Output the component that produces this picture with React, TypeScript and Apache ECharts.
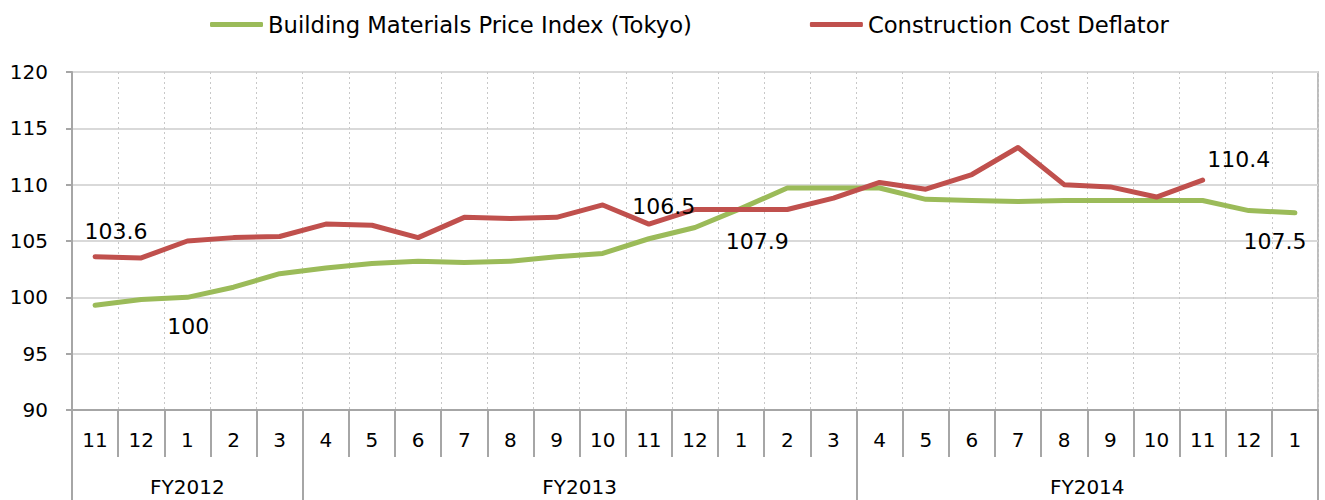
import React, { useEffect, useRef } from "react";
import * as echarts from "echarts";

// ---- data ----
const months: string[] = [
  "11", "12", "1", "2", "3",
  "4", "5", "6", "7", "8", "9", "10", "11", "12", "1", "2", "3",
  "4", "5", "6", "7", "8", "9", "10", "11", "12", "1",
];
const fiscalYears: string[] = ["FY2012", "FY2013", "FY2014"];
const fiscalYearMonthCounts: number[] = [5, 12, 10];

const buildingMaterials: number[] = [
  99.3, 99.8, 100, 100.9, 102.1,
  102.6, 103.0, 103.2, 103.1, 103.2, 103.6, 103.9, 105.2, 106.2, 107.9, 109.7, 109.7,
  109.7, 108.7, 108.6, 108.5, 108.6, 108.6, 108.6, 108.6, 107.7, 107.5,
];
const deflator: (number | null)[] = [
  103.6, 103.5, 105.0, 105.3, 105.4,
  106.5, 106.4, 105.3, 107.1, 107.0, 107.1, 108.2, 106.5, 107.8, 107.8, 107.8, 108.8,
  110.2, 109.6, 110.9, 113.3, 110.0, 109.8, 108.9, 110.4, null, null,
];
const seriesNames: string[] = ["Building Materials Price Index (Tokyo)", "Construction Cost Deflator"];
const yMin = 90;
const yMax = 120;
const yStep = 5;

// ---- label placement (style, not data) ----
const greenLabelOffsets: Record<number, [number, number]> = {
  2: [1, 29],
  14: [16, 33],
  26: [-20, 29],
};
const redLabelOffsets: Record<number, [number, number]> = {
  0: [21, -25],
  12: [15, -18],
  24: [36, -21],
};

const FONT = "DejaVu Sans";
const GREEN = "#9bbb59";
const RED = "#c0504d";
const AXIS = "#a6a6a6";

function withLabels(values: (number | null)[], offsets: Record<number, [number, number]>) {
  return values.map((v, i) => {
    const off = offsets[i];
    if (off && v != null) {
      return {
        value: v,
        label: {
          show: true,
          position: "inside",
          offset: off,
          align: "center",
          verticalAlign: "middle",
          fontSize: 22,
          fontFamily: FONT,
          color: "#000",
          formatter: (p: any) => String(p.value),
        },
      };
    }
    return v;
  });
}

export default function App() {
  const ref = useRef<HTMLDivElement>(null);

  useEffect(() => {
    if (!ref.current) return;
    const chart = echarts.init(ref.current, null, { renderer: "svg" });
    const gridLeft = 72;
    const gridRight = 7;
    const bandWidth = (chart.getWidth() - gridLeft - gridRight) / months.length;

    // group boundaries and label indices
    const boundaries = new Set<number>();
    const labelAt: Record<number, { name: string; even: boolean }> = {};
    const groupOfMonth: string[] = [];
    let start = 0;
    fiscalYears.forEach((fy, g) => {
      const n = fiscalYearMonthCounts[g];
      boundaries.add(start);
      const even = n % 2 === 0;
      const idx = even ? start + n / 2 - 1 : start + (n - 1) / 2;
      labelAt[idx] = { name: fy, even };
      for (let k = 0; k < n; k++) groupOfMonth.push(fy);
      start += n;
    });

    const option: any = {
      animation: false,
      textStyle: { fontFamily: FONT },
      legend: {
        left: 210,
        top: 13,
        padding: 0,
        itemWidth: 53,
        itemHeight: 5,
        itemGap: 118,
        icon: "roundRect",
        textStyle: { fontSize: 22.7, fontFamily: FONT, color: "#000" },
        data: seriesNames,
      },
      grid: {
        left: gridLeft,
        right: gridRight,
        top: 72,
        bottom: 90,
        show: true,
        borderColor: AXIS,
        borderWidth: 1.5,
        containLabel: false,
      },
      xAxis: [
        {
          type: "category",
          data: months,
          boundaryGap: true,
          axisLine: { show: true, lineStyle: { color: AXIS, width: 2 } },
          axisTick: { show: true, interval: 0, length: 47, lineStyle: { color: AXIS, width: 2 } },
          axisLabel: { interval: 0, margin: 20, fontSize: 20, color: "#000", fontFamily: FONT },
          splitLine: { show: true, interval: 0, lineStyle: { type: [2, 3], color: "#c8c8c8", width: 1 } },
        },
        {
          type: "category",
          data: groupOfMonth,
          position: "bottom",
          offset: 0,
          boundaryGap: true,
          axisLine: { show: false },
          axisTick: {
            show: true,
            interval: (i: number) => boundaries.has(i),
            length: 90,
            lineStyle: { color: AXIS, width: 2 },
          },
          axisLabel: {
            interval: (i: number) => labelAt[i] !== undefined,
            margin: 67,
            fontSize: 20,
            color: "#000",
            fontFamily: FONT,
            formatter: (_v: string, i: number) => {
              const l = labelAt[i];
              if (!l) return "";
              return l.even ? `{e|${l.name}}` : `{o|${l.name}}`;
            },
            rich: {
              e: { fontSize: 20, color: "#000", fontFamily: FONT, padding: [0, 0, 0, bandWidth] },
              o: { fontSize: 20, color: "#000", fontFamily: FONT },
            },
          },
          splitLine: { show: false },
        },
      ],
      yAxis: {
        type: "value",
        min: yMin,
        max: yMax,
        interval: yStep,
        axisLine: { show: true, lineStyle: { color: AXIS, width: 2 } },
        axisTick: { show: true, length: 6, lineStyle: { color: AXIS, width: 2 } },
        axisLabel: { margin: 24, fontSize: 20, color: "#000", fontFamily: FONT },
        splitLine: { show: true, lineStyle: { color: "#d9d9d9", width: 2 } },
      },
      series: [
        {
          name: seriesNames[0],
          type: "line",
          data: withLabels(buildingMaterials, greenLabelOffsets),
          symbol: "circle",
          symbolSize: 0,
          showSymbol: true,
          lineStyle: { color: GREEN, width: 5, join: "round", cap: "round" },
          itemStyle: { color: GREEN },
          label: { show: false },
          z: 3,
        },
        {
          name: seriesNames[1],
          type: "line",
          data: withLabels(deflator, redLabelOffsets),
          symbol: "circle",
          symbolSize: 0,
          showSymbol: true,
          connectNulls: false,
          lineStyle: { color: RED, width: 5, join: "round", cap: "round" },
          itemStyle: { color: RED },
          label: { show: false },
          z: 4,
        },
      ],
    };
    chart.setOption(option);
    return () => chart.dispose();
  }, []);

  return (
    <div
      ref={ref}
      style={{ position: "fixed", left: 0, top: 0, width: 1325, height: 500, background: "#fff" }}
    />
  );
}
